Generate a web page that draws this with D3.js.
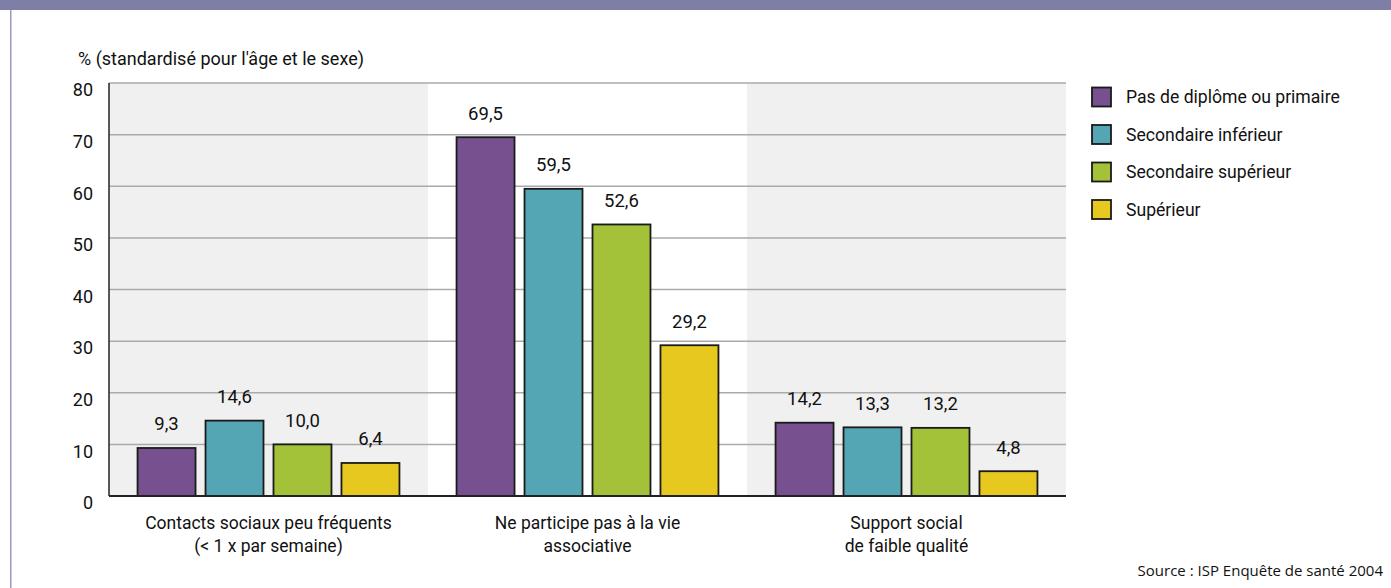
<!DOCTYPE html>
<html>
<head>
<meta charset="utf-8">
<script src="https://cdn.jsdelivr.net/npm/d3@7"></script>
<style>
  body { margin: 0; background: #fff; }
  svg text { font-family: "Liberation Sans Narrow", "Roboto", sans-serif; fill: #111; }
</style>
</head>
<body>
<div id="vis"></div>
<script>
(function() {
  // categories (each has two lines of label)
  var categories = [
    ["Contacts sociaux peu fréquents", "(< 1 x par semaine)"],
    ["Ne participe pas à la vie", "associative"],
    ["Support social", "de faible qualité"]
  ];
  var series = ["Pas de diplôme ou primaire", "Secondaire inférieur", "Secondaire supérieur", "Supérieur"];
  var colors = ["#77518f", "#55a6b4", "#a3c23a", "#e7c81f"];
  // values per series, one per category
  var pasDeDiplome = [9.3, 69.5, 14.2];
  var secInferieur = [14.6, 59.5, 13.3];
  var secSuperieur = [10.0, 52.6, 13.2];
  var superieur = [6.4, 29.2, 4.8];
  var yTicks = [0, 10, 20, 30, 40, 50, 60, 70, 80];

  var values = [pasDeDiplome, secInferieur, secSuperieur, superieur];

  var W = 1391, H = 588;
  var svg = d3.select("#vis").append("svg").attr("width", W).attr("height", H);

  // frame: top band + left border
  svg.append("rect").attr("x", 0).attr("y", 0).attr("width", W).attr("height", 10).attr("fill", "#7f7ea6");
  svg.append("rect").attr("x", 10).attr("y", 10).attr("width", 1.5).attr("height", H - 10).attr("fill", "#9a99c2");

  var left = 109, right = 1066, top = 83, bottom = 496;

  var x0 = d3.scaleBand().domain(d3.range(categories.length)).range([left, right]);
  var x1 = d3.scaleBand().domain(d3.range(series.length)).range([0, x0.bandwidth()])
    .paddingInner(0.147).paddingOuter(0.42);
  var y = d3.scaleLinear().domain([0, 80]).range([bottom, top]);

  // alternating backgrounds
  svg.selectAll("rect.bg").data(d3.range(categories.length)).enter()
    .append("rect").attr("class", "bg")
    .attr("x", function(d) { return x0(d); })
    .attr("y", top)
    .attr("width", x0.bandwidth())
    .attr("height", bottom - top)
    .attr("fill", function(d) { return d % 2 === 0 ? "#f0f0f0" : "#fff"; });

  // gridlines
  svg.selectAll("line.grid").data(yTicks.filter(function(t) { return t > 0; })).enter()
    .append("line").attr("class", "grid")
    .attr("x1", left).attr("x2", right)
    .attr("y1", function(d) { return y(d); }).attr("y2", function(d) { return y(d); })
    .attr("stroke", "#aaa").attr("stroke-width", 1.5);

  // y tick labels
  svg.selectAll("text.ytick").data(yTicks).enter()
    .append("text").attr("class", "ytick")
    .attr("x", 93).attr("y", function(d) { return y(d) + 7; })
    .attr("dy", "0.35em")
    .attr("text-anchor", "end")
    .attr("font-size", 18)
    .text(function(d) { return d; });

  svg.append("text").attr("x", 78).attr("y", 59).attr("dy", "0.35em")
    .attr("font-size", 18).text("% (standardisé pour l'âge et le sexe)");

  // bars
  var groups = svg.selectAll("g.cat").data(d3.range(categories.length)).enter()
    .append("g").attr("class", "cat")
    .attr("transform", function(d) { return "translate(" + x0(d) + ",0)"; });

  groups.selectAll("rect.bar").data(function(c) {
    return values.map(function(v, s) { return { s: s, v: v[c] }; });
  }).enter().append("rect").attr("class", "bar")
    .attr("x", function(d) { return x1(d.s); })
    .attr("y", function(d) { return y(d.v); })
    .attr("width", x1.bandwidth())
    .attr("height", function(d) { return bottom - y(d.v); })
    .attr("fill", function(d) { return colors[d.s]; })
    .attr("stroke", "#1a1a1a").attr("stroke-width", 1.8);

  groups.selectAll("text.val").data(function(c) {
    return values.map(function(v, s) { return { s: s, v: v[c] }; });
  }).enter().append("text").attr("class", "val")
    .attr("x", function(d) { return x1(d.s) + x1.bandwidth() / 2; })
    .attr("y", function(d) { return y(d.v) - 24; })
    .attr("dy", "0.35em")
    .attr("text-anchor", "middle")
    .attr("font-size", 18.5)
    .text(function(d) { return d3.format(".1f")(d.v).replace(".", ","); });

  // axes lines
  svg.append("line").attr("x1", left).attr("x2", left).attr("y1", top).attr("y2", bottom)
    .attr("stroke", "#222").attr("stroke-width", 1.5);
  svg.append("line").attr("x1", left).attr("x2", right).attr("y1", bottom).attr("y2", bottom)
    .attr("stroke", "#222").attr("stroke-width", 2);

  // category labels
  categories.forEach(function(lines, i) {
    var t = svg.append("text").attr("text-anchor", "middle").attr("font-size", 17.5);
    lines.forEach(function(l, k) {
      t.append("tspan").attr("x", x0(i) + x0.bandwidth() / 2)
        .attr("y", 523 + k * 23).attr("dy", "0.35em").text(l);
    });
  });

  // legend
  var legend = svg.selectAll("g.leg").data(series).enter()
    .append("g").attr("class", "leg")
    .attr("transform", function(d, i) { return "translate(1092," + (97 + i * 37.5) + ")"; });
  legend.append("rect").attr("x", 0).attr("y", -9.5).attr("width", 19).attr("height", 19)
    .attr("fill", function(d, i) { return colors[i]; })
    .attr("stroke", "#1a1a1a").attr("stroke-width", 1.8);
  legend.append("text").attr("x", 34).attr("y", 0).attr("dy", "0.35em")
    .attr("font-size", 17.6).text(function(d) { return d; });

  svg.append("text").attr("x", 1383).attr("y", 576).attr("text-anchor", "end")
    .style("font-family", "'Open Sans', 'DejaVu Sans', sans-serif")
    .attr("font-size", 15).text("Source : ISP Enquête de santé 2004");
}());
</script>
</body>
</html>
